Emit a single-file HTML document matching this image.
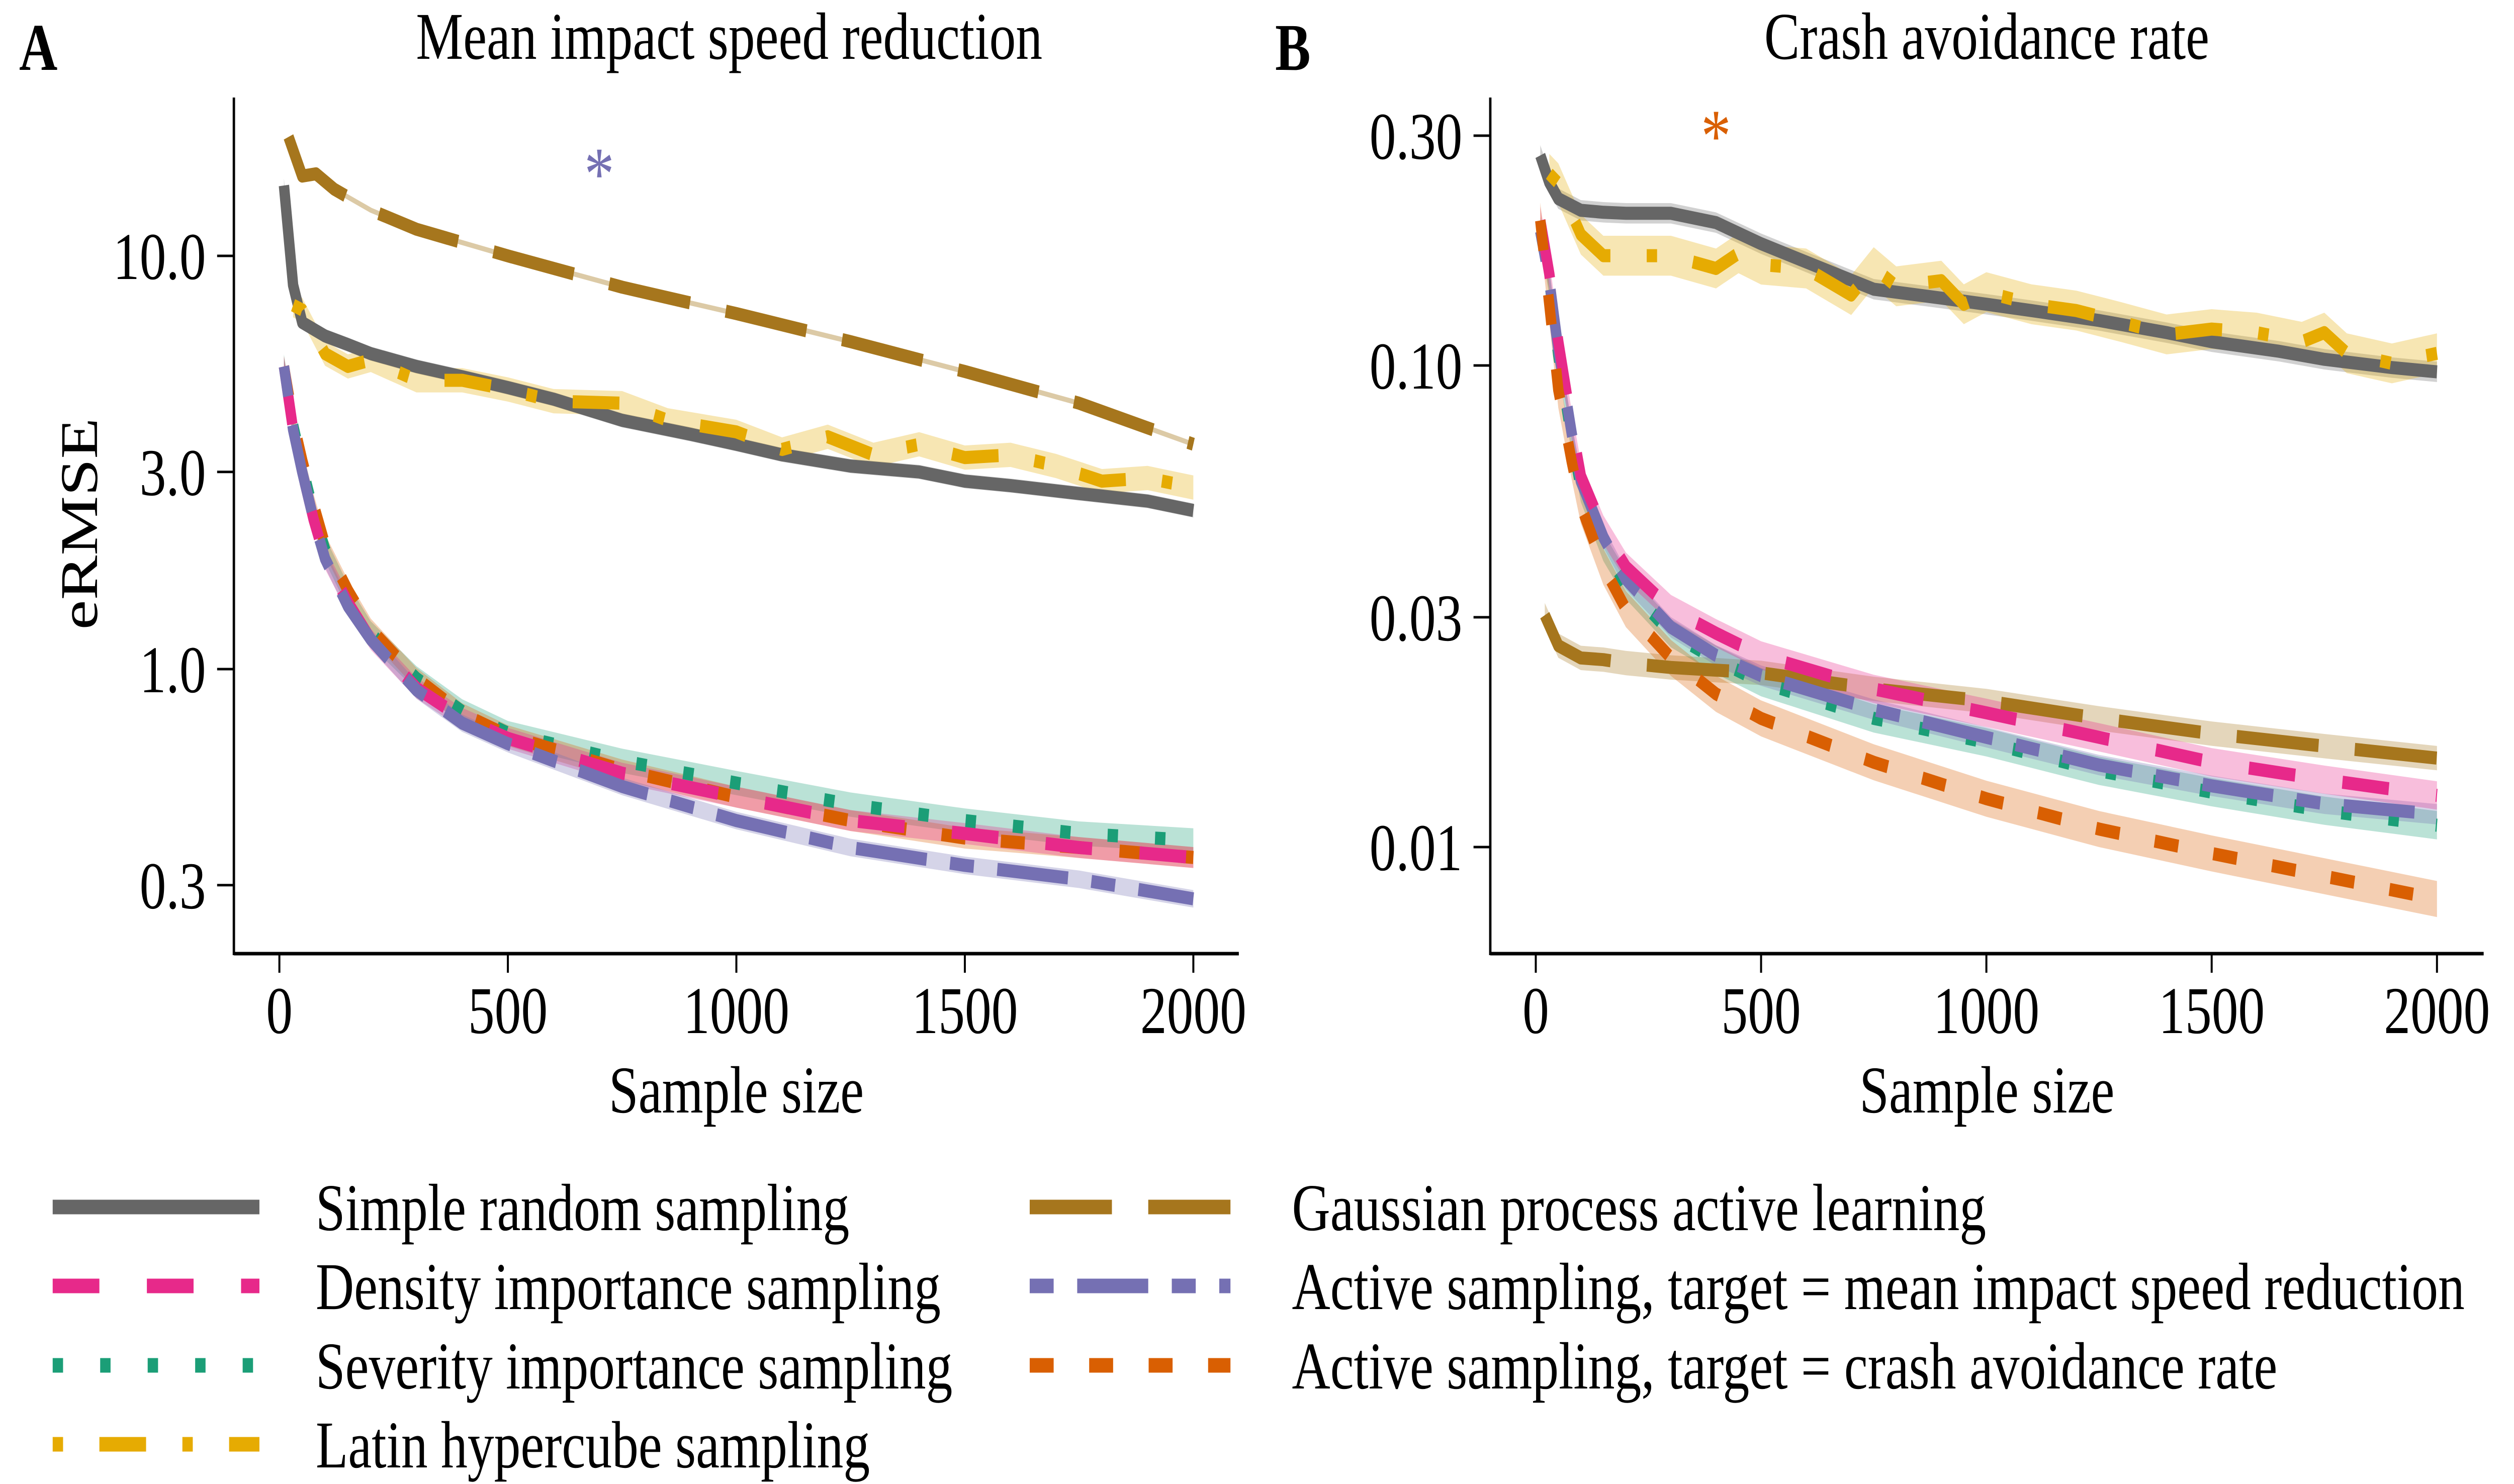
<!DOCTYPE html>
<html><head><meta charset="utf-8">
<style>
html,body{margin:0;padding:0;background:#fff;overflow:hidden;width:100%;height:100%;}
svg{display:block;font-family:"Liberation Serif","DejaVu Serif",serif;position:fixed;left:0;top:0;width:100vw;height:100vh;}
</style></head>
<body>
<svg id="chart" viewBox="0 0 6299 2952" preserveAspectRatio="none" xmlns="http://www.w3.org/2000/svg">
  <rect x="0" y="0" width="6299" height="2952" fill="#fff"/>
  <g id="panelA"></g>
  <g id="panelB"></g>
  <g id="legend"></g>
</svg>
<script>
// ---------- Panel A data (Mean impact speed reduction) ----------
const a_srs_x = [10,30,50,100,150,200,300,400,500,600,750,900,1000,1100,1250,1400,1500,1600,1750,1900,2000];
const a_srs_y = [14.8,8.5,6.9,6.4,6.1,5.8,5.4,5.1,4.8,4.5,4.0,3.7,3.5,3.3,3.1,3.0,2.85,2.78,2.66,2.55,2.42];
const a_lhs_x = [30,50,100,150,200,300,400,500,600,750,850,1000,1100,1200,1300,1400,1500,1600,1700,1800,1900,2000];
const a_lhs_y = [7.6,7.4,5.8,5.4,5.6,5.0,5.0,4.75,4.45,4.4,4.0,3.75,3.4,3.65,3.3,3.5,3.25,3.3,3.1,2.85,2.9,2.75];
const a_gp_x = [20,50,80,120,200,300,500,750,1000,1250,1500,1750,2000];
const a_gp_y = [19.4,15.6,15.8,14.5,12.9,11.6,10.0,8.4,7.25,6.2,5.25,4.4,3.5];
const a_low_x = [10,30,50,75,100,150,200,300,400,500,750,1000,1250,1500,1750,2000];
const a_dens_y = [5.4,3.8,3.0,2.3,1.85,1.45,1.18,0.90,0.76,0.68,0.56,0.49,0.43,0.40,0.37,0.35];
const a_sev_y  = [5.4,3.9,3.1,2.4,1.95,1.5,1.22,0.95,0.79,0.70,0.60,0.53,0.47,0.43,0.40,0.385];
const a_misr_y = [5.4,3.8,3.0,2.3,1.85,1.42,1.18,0.89,0.74,0.66,0.52,0.43,0.37,0.335,0.31,0.278];
const a_car_y  = [5.4,4.0,3.2,2.5,2.0,1.55,1.25,0.95,0.78,0.69,0.57,0.49,0.43,0.39,0.37,0.35];
const a_star = [700, 15.7];
const a_yticks = [10.0,3.0,1.0,0.3];
const a_ytick_labels = ["10.0","3.0","1.0","0.3"];

// ---------- Panel B data (Crash avoidance rate) ----------
const b_srs_x = [10,30,50,100,150,200,300,400,500,600,750,900,1000,1100,1250,1400,1500,1650,1750,1900,2000];
const b_srs_y = [0.273,0.24,0.222,0.21,0.208,0.207,0.207,0.198,0.179,0.164,0.144,0.138,0.134,0.13,0.124,0.117,0.112,0.107,0.103,0.099,0.097];
const b_lhs_x = [30,50,100,150,200,300,400,450,500,600,700,750,800,900,950,1000,1100,1200,1300,1400,1500,1600,1700,1750,1800,1900,2000];
const b_lhs_y = [0.25,0.239,0.187,0.169,0.169,0.169,0.159,0.171,0.162,0.159,0.14,0.16,0.146,0.15,0.134,0.142,0.134,0.13,0.123,0.116,0.119,0.117,0.112,0.117,0.106,0.101,0.106];
const b_gp_x = [20,50,100,150,200,300,500,750,1000,1250,1500,1750,2000];
const b_gp_y = [0.0303,0.0262,0.0247,0.0245,0.0241,0.0236,0.023,0.0213,0.0201,0.0185,0.0172,0.0162,0.0153];
const b_low_x = [10,30,50,80,100,150,200,300,400,500,750,1000,1250,1500,1750,2000];
const b_dens_y = [0.2,0.155,0.112,0.075,0.059,0.0456,0.0382,0.0312,0.0278,0.025,0.0213,0.019,0.0169,0.015,0.0138,0.0128];
const b_sev_y  = [0.19,0.15,0.105,0.07,0.0557,0.042,0.035,0.0278,0.0245,0.022,0.0185,0.0165,0.0144,0.013,0.0119,0.0111];
const b_misr_y = [0.19,0.15,0.108,0.072,0.0575,0.044,0.036,0.0286,0.025,0.0227,0.0193,0.0169,0.0148,0.0134,0.0123,0.0117];
const b_car_y  = [0.2,0.134,0.089,0.063,0.0512,0.0382,0.0312,0.0247,0.0208,0.0185,0.015,0.0126,0.0109,0.0097,0.0087,0.0078];
const b_star = [400, 0.298];
const b_yticks = [0.30,0.10,0.03,0.01];
const b_ytick_labels = ["0.30","0.10","0.03","0.01"];

const xticks = [0,500,1000,1500,2000];
const xtick_labels = ["0","500","1000","1500","2000"];

const NS = "http://www.w3.org/2000/svg";
function mk(parent, tag, attrs){
  const e = document.createElementNS(NS, tag);
  for (const k in attrs) e.setAttribute(k, attrs[k]);
  parent.appendChild(e);
  return e;
}
const C = {srs:"#666666", dens:"#e7298a", sev:"#1b9e77", lhs:"#e6ab02", gp:"#a6761d", misr:"#7570b3", car:"#d95f02"};
const DASH = {srs:"none", dens:"117 119", sev:"26 93", lhs:"26 91 117 91", gp:"206 91", misr:"60 59 178 59", car:"60 89"};

function drawPanel(g, P){
  const sx = v => P.x0 + P.kx * v;
  const sy = v => P.y0 - P.ky * Math.log10(v / P.yref);
  const ax = mk(g,"line",{x1:P.left,y1:194,x2:P.left,y2:1900,stroke:"#000","stroke-width":6});
   
  const bx = mk(g,"line",{x1:P.left,y1:1897,x2:P.right,y2:1897,stroke:"#000","stroke-width":7});
   
  xticks.forEach((t,i)=>{
    const tk = mk(g,"line",{x1:sx(t),y1:1897,x2:sx(t),y2:1935,stroke:"#000","stroke-width":5});
     
    const tl = mk(g,"text",{x:sx(t),y:2055,"font-size":133,"text-anchor":"middle"});
    tl.textContent = xtick_labels[i];
     
  });
  P.yticks.forEach((t,i)=>{
    const y = sy(t);
    const tk = mk(g,"line",{x1:P.left-42,y1:y,x2:P.left,y2:y,stroke:"#000","stroke-width":5});
     
    const tl = mk(g,"text",{x:P.left-70,y:y+46,"font-size":133,"text-anchor":"end"});
    tl.textContent = P.ylabels[i];
     
  });
  const xl = mk(g,"text",{x:(P.left+P.right)/2,y:2213,"font-size":133,"text-anchor":"middle"});
  xl.textContent = "Sample size";
   
  const ti = mk(g,"text",{x:P.titleX,y:117,"font-size":133,"text-anchor":"middle"});
  ti.textContent = P.title;
   
  const lt = mk(g,"text",{x:P.letterX,y:139,"font-size":133,"font-weight":"bold"});
  lt.textContent = P.letter;
   

  P.series.forEach(s=>{
    const f = s.band;
    let up = s.x.map((x,i)=>sx(x)+","+sy(s.y[i]*f)).join(" ");
    let lo = s.x.map((x,i)=>sx(x)+","+sy(s.y[i]/f)).reverse().join(" ");
    const rb = mk(g,"polygon",{points:up+" "+lo,fill:C[s.k],"fill-opacity":0.3,stroke:"none"});
    
    
  });
  P.series.forEach(s=>{
    const d = s.x.map((x,i)=>(i?"L":"M")+sx(x)+","+sy(s.y[i])).join(" ");
    if (s.k==="gp" && P.thin){
      const th = mk(g,"path",{d:d,fill:"none",stroke:"#dccaa6","stroke-width":10});
       
    }
    const p = mk(g,"path",{d:d,fill:"none",stroke:C[s.k],"stroke-width":26,"stroke-dasharray":DASH[s.k],"stroke-linejoin":"round"});
    
    
  });
  const st = mk(g,"text",{x:sx(P.star[0]),y:sy(P.star[1])+48,"font-size":150,"text-anchor":"middle",fill:P.starColor});
  st.textContent = "*";
   
}

drawPanel(document.getElementById("panelA"), {
  left:586, right:3104, x0:700, kx:572.5/500, y0:1331, ky:822, yref:1,
  yticks:a_yticks, ylabels:a_ytick_labels, title:"Mean impact speed reduction", titleX:1827,
  letter:"A", letterX:48, star:a_star, starColor:"#7570b3", thin:true,
  series:[
    {k:"gp",x:a_gp_x,y:a_gp_y,band:1.0},
    {k:"srs",x:a_srs_x,y:a_srs_y,band:1.04},
    {k:"lhs",x:a_lhs_x,y:a_lhs_y,band:1.07},
    {k:"sev",x:a_low_x,y:a_sev_y,band:1.07},
    {k:"car",x:a_low_x,y:a_car_y,band:1.06},
    {k:"dens",x:a_low_x,y:a_dens_y,band:1.06},
    {k:"misr",x:a_low_x,y:a_misr_y,band:1.05}
  ]
});
drawPanel(document.getElementById("panelB"), {
  left:3734, right:6223, x0:3848, kx:1.129, y0:727, ky:958, yref:0.1,
  yticks:b_yticks, ylabels:b_ytick_labels, title:"Crash avoidance rate", titleX:4978,
  letter:"B", letterX:3195, star:b_star, starColor:"#d95f02", thin:false,
  series:[
    {k:"srs",x:b_srs_x,y:b_srs_y,band:1.05},
    {k:"lhs",x:b_lhs_x,y:b_lhs_y,band:1.1},
    {k:"gp",x:b_gp_x,y:b_gp_y,band:1.06},
    {k:"sev",x:b_low_x,y:b_sev_y,band:1.07},
    {k:"misr",x:b_low_x,y:b_misr_y,band:1.05},
    {k:"dens",x:b_low_x,y:b_dens_y,band:1.07},
    {k:"car",x:b_low_x,y:b_car_y,band:1.09}
  ]
});

const yt = mk(document.getElementById("panelA"),"text",{x:0,y:0,"font-size":133,"text-anchor":"middle",transform:"translate(243,1042) rotate(-90)"});
yt.textContent = "eRMSE";



const legend_keys = ["srs","dens","sev","lhs","gp","misr","car"];
const legend_labels = ["Simple random sampling","Density importance sampling","Severity importance sampling","Latin hypercube sampling","Gaussian process active learning","Active sampling, target = mean impact speed reduction","Active sampling, target = crash avoidance rate"];
const rowsY = [2401,2558,2716,2873];
const lg = document.getElementById("legend");
legend_keys.forEach((k,i)=>{
  const col = i<4?0:1, row = i<4?i:i-4;
  const x1 = col? 2580:132, x2 = col?3083:650, tx = col?3237:791;
  const y = rowsY[row];
  const eg = mk(lg,"g",{});
  
  
  mk(eg,"line",{x1:x1,y1:y,x2:x2,y2:y,stroke:C[k],"stroke-width":29,"stroke-dasharray":DASH[k]});
  const t = mk(eg,"text",{x:tx,y:y+46,"font-size":133});
  t.textContent = legend_labels[i];
});
</script>
</body></html>
